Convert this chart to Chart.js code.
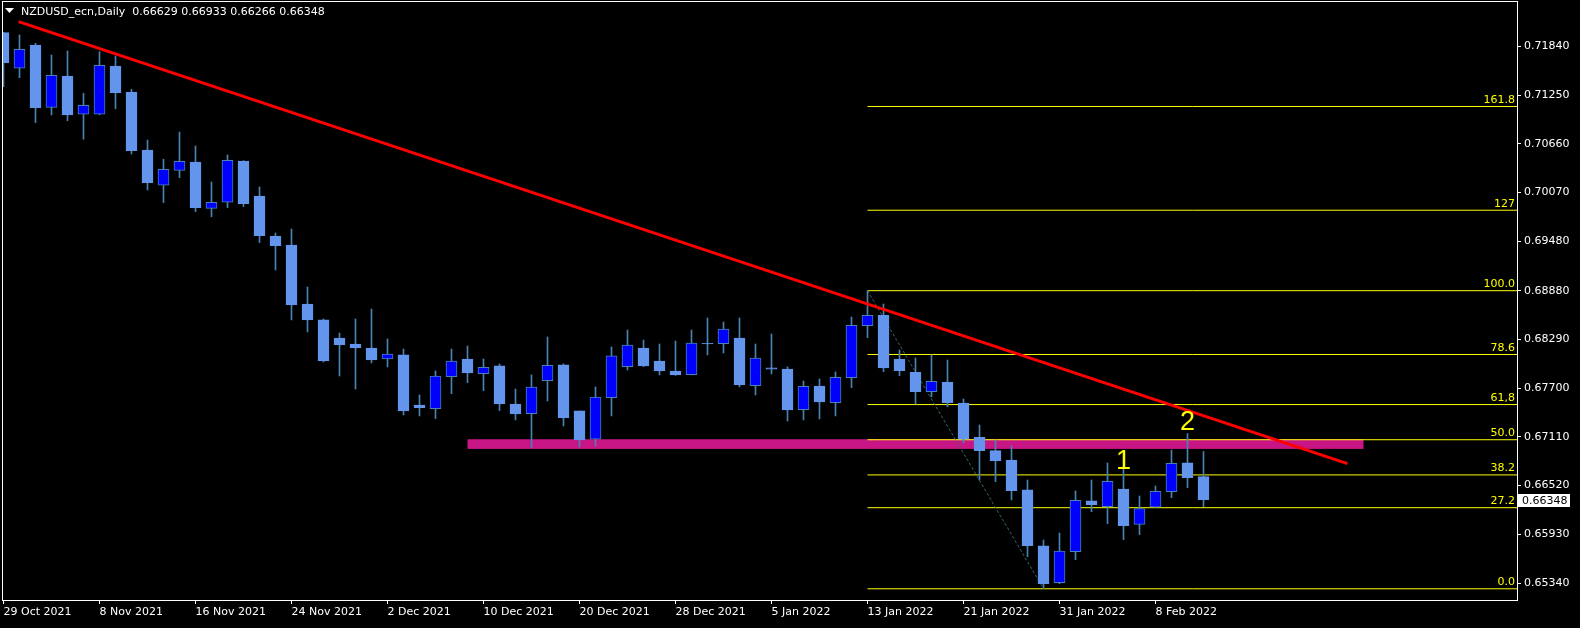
<!DOCTYPE html>
<html>
<head>
<meta charset="utf-8">
<title>NZDUSD_ecn,Daily</title>
<script src="https://cdn.jsdelivr.net/npm/chart.js@4.4.1/dist/chart.umd.min.js"></script>
<style>
  html, body { margin: 0; padding: 0; background: #000; }
  #wrap { position: relative; width: 1580px; height: 628px; }
</style>
</head>
<body>
<div id="wrap"><canvas id="nzdChart" width="1580" height="628"></canvas></div>
<script>
const symbolTitle = 'NZDUSD_ecn,Daily'

// daily OHLC, 29 Oct 2021 .. 11 Feb 2022
const opens = [
  0.72005, 0.71574, 0.71856, 0.71101, 0.71480, 0.71017, 0.71017, 0.71601, 0.71287, 0.70584,
  0.70157, 0.70338, 0.70439, 0.69878, 0.69951, 0.70451, 0.70027, 0.69543, 0.69434, 0.68719,
  0.68526, 0.68307, 0.68235, 0.68186, 0.68053, 0.68102, 0.67496, 0.67451, 0.67839, 0.68053,
  0.67875, 0.67969, 0.67508, 0.67391, 0.67790, 0.67981, 0.67424, 0.67081, 0.67585, 0.67960,
  0.68186, 0.68029, 0.67908, 0.67864, 0.68242, 0.68239, 0.68307, 0.67730, 0.67945, 0.67932,
  0.67440, 0.67726, 0.67524, 0.67827, 0.68456, 0.68582, 0.68049, 0.67892, 0.67657, 0.67771,
  0.67520, 0.67105, 0.66943, 0.66830, 0.66467, 0.65789, 0.65344, 0.65720, 0.66334, 0.66265,
  0.66479, 0.66051, 0.66257, 0.66446, 0.66794, 0.66629
]
const highs = [
  0.72010, 0.71977, 0.71876, 0.71735, 0.71783, 0.71271, 0.71775, 0.71723, 0.71319, 0.70705,
  0.70472, 0.70802, 0.70633, 0.70197, 0.70524, 0.70455, 0.70136, 0.69579, 0.69628, 0.68925,
  0.68538, 0.68368, 0.68538, 0.68659, 0.68296, 0.68174, 0.67617, 0.67908, 0.68174, 0.68210,
  0.68053, 0.67993, 0.67690, 0.67860, 0.68320, 0.67993, 0.67424, 0.67714, 0.68198, 0.68404,
  0.68283, 0.68235, 0.68271, 0.68404, 0.68550, 0.68501, 0.68550, 0.68235, 0.68356, 0.67957,
  0.67787, 0.67811, 0.67896, 0.68562, 0.68880, 0.68719, 0.68162, 0.68065, 0.68102, 0.68041,
  0.67569, 0.67254, 0.67072, 0.67000, 0.66588, 0.65861, 0.65946, 0.66455, 0.66588, 0.66794,
  0.66749, 0.66394, 0.66515, 0.66951, 0.67150, 0.66933
]
const lows = [
  0.71351, 0.71460, 0.70915, 0.71008, 0.70939, 0.70714, 0.71010, 0.71084, 0.70536, 0.70100,
  0.69946, 0.70249, 0.69837, 0.69776, 0.69885, 0.69898, 0.69462, 0.69131, 0.68526, 0.68380,
  0.68017, 0.67847, 0.67690, 0.68005, 0.67957, 0.67375, 0.67363, 0.67330, 0.67633, 0.67766,
  0.67669, 0.67427, 0.67315, 0.66979, 0.67545, 0.67242, 0.66988, 0.67000, 0.67363, 0.67920,
  0.67960, 0.67860, 0.67855, 0.67860, 0.68102, 0.68126, 0.67714, 0.67617, 0.67872, 0.67303,
  0.67315, 0.67327, 0.67363, 0.67706, 0.68311, 0.67900, 0.67851, 0.67508, 0.67597, 0.67476,
  0.67036, 0.66588, 0.66567, 0.66346, 0.65659, 0.65270, 0.65332, 0.65623, 0.66204, 0.66059,
  0.65865, 0.65926, 0.66255, 0.66374, 0.66495, 0.66266
]
const closes = [
  0.71641, 0.71804, 0.71096, 0.71489, 0.71008, 0.71126, 0.71610, 0.71278, 0.70576, 0.70188,
  0.70350, 0.70447, 0.69885, 0.69951, 0.70460, 0.69934, 0.69546, 0.69425, 0.68707, 0.68526,
  0.68029, 0.68223, 0.68186, 0.68041, 0.68114, 0.67424, 0.67464, 0.67847, 0.68029, 0.67884,
  0.67953, 0.67508, 0.67387, 0.67714, 0.67977, 0.67342, 0.67072, 0.67593, 0.68090, 0.68223,
  0.67969, 0.67908, 0.67860, 0.68247, 0.68236, 0.68416, 0.67738, 0.68065, 0.67930, 0.67436,
  0.67723, 0.67532, 0.67832, 0.68461, 0.68582, 0.67945, 0.67912, 0.67657, 0.67783, 0.67524,
  0.67081, 0.66943, 0.66822, 0.66458, 0.65792, 0.65332, 0.65728, 0.66342, 0.66289, 0.66572,
  0.66034, 0.66240, 0.66451, 0.66790, 0.66616, 0.66348
]

const dateTickIdx = [0, 6, 12, 18, 24, 30, 36, 42, 48, 54, 60, 66, 72]
const dateTickLabels = [
  '29 Oct 2021', '8 Nov 2021', '16 Nov 2021', '24 Nov 2021', '2 Dec 2021', '10 Dec 2021',
  '20 Dec 2021', '28 Dec 2021', '5 Jan 2022', '13 Jan 2022', '21 Jan 2022', '31 Jan 2022', '8 Feb 2022'
]
const priceTicks = [
  0.71840, 0.71250, 0.70660, 0.70070, 0.69480, 0.68880,
  0.68290, 0.67700, 0.67110, 0.66520, 0.65930, 0.65340
]

// trend line (bar index, price)
const trendX = [0.94, 84.0]
const trendY = [0.72138, 0.66785]

// fibo retracement, high of bar 54 to low of bar 65
const fibX = [54, 65]
const fibY = [0.68880, 0.65270]
const fibLevels = [0, 27.2, 38.2, 50, 61.8, 78.6, 100, 127, 161.8]
const fibTexts = ['0.0', '27.2', '38.2', '50.0', '61,8', '78.6', '100.0', '127', '161.8']

// support zone rectangle
const zoneX = [29, 85]
const zoneY = [0.67081, 0.66964]

const waveLabels = ['1', '2']
const waveX = [70, 74]
const waveY = [0.66806, 0.67278]

const xMin = -0.09375, xMax = 94.59375
const yMin = 0.651342, yMax = 0.723765

const idx = opens.map((_, i) => i)
const isUp = i => closes[i] >= opens[i]
const fibPrice = r => fibY[1] + (fibY[0] - fibY[1]) * r / 100

Chart.defaults.font.family = "'DejaVu Sans', Tahoma, sans-serif"
Chart.defaults.font.size = 11
Chart.defaults.color = '#ffffff'

const datasets = []

// trend line on top
datasets.push({
  type: 'line',
  data: trendX.map((x, k) => ({ x, y: trendY[k] })),
  borderColor: '#ff0000', borderWidth: 3, pointRadius: 0, order: 0
})

// bodies
datasets.push({
  type: 'bar',
  data: idx.map(i => ({ x: i, y: [opens[i], closes[i]] })),
  backgroundColor: idx.map(i => isUp(i) ? '#0000ff' : '#6495ed'),
  borderColor: idx.map(i => isUp(i) ? '#4682b4' : '#6495ed'),
  borderWidth: 1, borderSkipped: false, barThickness: 11, grouped: false, order: 2
})

// wicks
datasets.push({
  type: 'bar',
  data: idx.map(i => ({ x: i, y: [lows[i], highs[i]] })),
  backgroundColor: '#4682b4',
  borderWidth: 0, barThickness: 1, grouped: false, order: 3
})

// fibo diagonal
datasets.push({
  type: 'line',
  data: fibX.map((x, k) => ({ x, y: fibY[k] })),
  borderColor: '#3a6464', borderWidth: 1, borderDash: [3, 2], pointRadius: 0, order: 4
})

// fibo levels
fibLevels.forEach(r => {
  datasets.push({
    type: 'line',
    data: [{ x: fibX[0], y: fibPrice(r) }, { x: xMax, y: fibPrice(r) }],
    borderColor: '#ffff00', borderWidth: 1, pointRadius: 0, order: 5
  })
})

const zonePlugin = {
  id: 'zone',
  beforeDatasetsDraw(chart) {
    const { ctx, scales: { x, y } } = chart
    const x0 = x.getPixelForValue(zoneX[0]), x1 = x.getPixelForValue(zoneX[1])
    const y0 = y.getPixelForValue(zoneY[0]), y1 = y.getPixelForValue(zoneY[1])
    ctx.save()
    ctx.fillStyle = '#c71585'
    ctx.fillRect(x0, y0, x1 - x0, y1 - y0)
    ctx.restore()
  }
}

const overlayPlugin = {
  id: 'overlay',
  beforeDraw(chart) {
    const { ctx, width, height } = chart
    ctx.save()
    ctx.fillStyle = '#000'
    ctx.fillRect(0, 0, width, height)
    ctx.restore()
  },
  afterDraw(chart) {
    const { ctx, chartArea: a, scales: { x, y } } = chart
    ctx.save()
    // frame
    ctx.strokeStyle = '#ffffff'
    ctx.lineWidth = 1
    ctx.strokeRect(Math.round(a.left) + 0.5, Math.round(a.top) - 0.5, Math.round(a.right - a.left), Math.round(a.bottom - a.top) + 1)

    // fibo level texts
    ctx.font = "11px 'DejaVu Sans'"
    ctx.fillStyle = '#ffff00'
    ctx.textAlign = 'right'
    ctx.textBaseline = 'bottom'
    fibLevels.forEach((r, k) => {
      ctx.fillText(fibTexts[k], a.right - 2, y.getPixelForValue(fibPrice(r)) - 1)
    })

    // wave labels
    ctx.font = "27px 'Liberation Sans'"
    ctx.textAlign = 'center'
    ctx.textBaseline = 'middle'
    waveLabels.forEach((t, k) => {
      ctx.fillText(t, x.getPixelForValue(waveX[k]), y.getPixelForValue(waveY[k]))
    })

    // header
    ctx.fillStyle = '#ffffff'
    ctx.beginPath()
    ctx.moveTo(5, 8); ctx.lineTo(14, 8); ctx.lineTo(9.5, 13); ctx.closePath()
    ctx.fill()
    ctx.font = "11px 'DejaVu Sans'"
    ctx.textAlign = 'left'
    const last = opens.length - 1
    const hdr = symbolTitle + '  ' + [opens[last], highs[last], lows[last], closes[last]].map(v => v.toFixed(5)).join(' ')
    ctx.fillText(hdr, 21, 12)

    // current price box
    const py = Math.round(y.getPixelForValue(closes[last]))
    ctx.fillStyle = '#ffffff'
    ctx.fillRect(a.right + 1, py - 6, 52, 13)
    ctx.fillStyle = '#000000'
    ctx.fillText(closes[last].toFixed(5), a.right + 5, py + 1)
    ctx.restore()
  }
}

new Chart(document.getElementById('nzdChart'), {
  type: 'bar',
  data: { datasets },
  options: {
    responsive: false,
    animation: false,
    events: [],
    layout: { padding: { left: 2, top: 2, right: 0, bottom: 0 } },
    plugins: { legend: { display: false }, tooltip: { enabled: false } },
    scales: {
      x: {
        type: 'linear', min: xMin, max: xMax, offset: false,
        afterBuildTicks: s => { s.ticks = dateTickIdx.map(v => ({ value: v })) },
        afterFit: s => { s.height = 28; s.paddingLeft = 0; s.paddingRight = 0 },
        grid: { drawOnChartArea: false, drawTicks: true, tickLength: 4, color: '#ffffff', offset: false },
        border: { display: false },
        ticks: {
          align: 'start', maxRotation: 0, autoSkip: false, padding: 2, color: '#ffffff',
          callback: (v, i) => dateTickLabels[i]
        }
      },
      y: {
        type: 'linear', position: 'right', min: yMin, max: yMax,
        afterBuildTicks: s => { s.ticks = priceTicks.map(v => ({ value: v })) },
        afterFit: s => { s.width = 63; s.paddingTop = 0; s.paddingBottom = 0 },
        grid: { drawOnChartArea: false, drawTicks: true, tickLength: 4, color: '#ffffff' },
        border: { display: false },
        ticks: { padding: 3, color: '#ffffff', callback: v => v.toFixed(5) }
      }
    }
  },
  plugins: [zonePlugin, overlayPlugin]
})
</script>
</body>
</html>
